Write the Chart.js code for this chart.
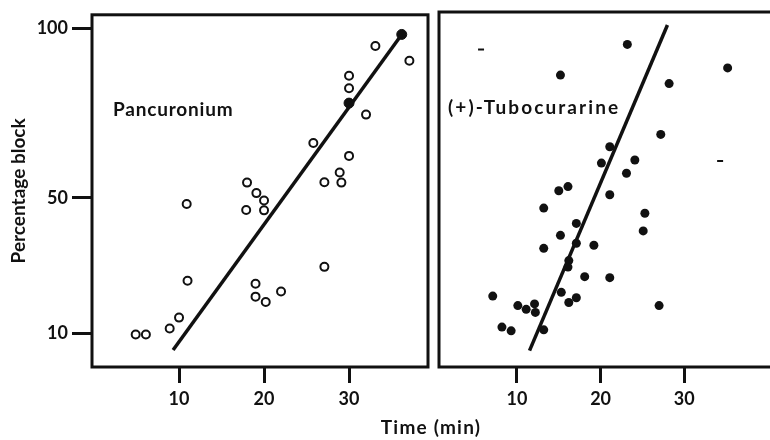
<!DOCTYPE html>
<html>
<head>
<meta charset="utf-8">
<script src="https://cdn.jsdelivr.net/npm/chart.js@4.4.1/dist/chart.umd.min.js"></script>
<style>
html, body { margin: 0; padding: 0; background: #fff; }
#wrap { position: relative; width: 770px; height: 440px; overflow: hidden; background: #fff; }
#wrap canvas { position: absolute; left: 0; top: 0; }
</style>
</head>
<body>
<div id="wrap">
  <canvas id="pan" width="800" height="440"></canvas>
  <canvas id="tub" width="800" height="440"></canvas>
</div>
<script>
// tick labels
const xTicks = [10, 20, 30];
const yTicks = [10, 50, 100];

// Pancuronium (open circles), time in min, % block
const panTime  = [4.9, 6.1, 8.9, 10.0, 11.0, 10.9, 18.0, 19.1, 20.0, 17.9, 20.0, 19.0, 19.0, 20.2, 22.0, 27.1, 25.8, 27.1, 28.9, 29.1, 30.0, 30.0, 30.0, 32.0, 33.1, 37.1];
const panBlock = [9.6, 9.6, 11.4, 14.6, 25.5, 48.2, 54.5, 51.4, 49.2, 46.4, 46.3, 24.6, 20.8, 19.2, 22.3, 29.6, 66.2, 54.6, 57.5, 54.5, 62.4, 82.4, 86.1, 74.6, 94.9, 90.5];
// the two solid points on the pancuronium line
const panSolidTime  = [30.0, 36.2];
const panSolidBlock = [78.0, 98.3];
// fitted line ends
const panFitTime  = [9.3, 36.2];
const panFitBlock = [5.0, 98.3];

// (+)-Tubocurarine (filled circles)
const tubTime  = [7.1, 8.2, 9.3, 10.1, 11.1, 12.1, 12.2, 13.2, 13.2, 13.2, 15.0, 16.1, 15.2, 15.2, 15.3, 16.2, 17.1, 17.1, 17.1, 16.2, 16.1, 18.1, 19.2, 20.1, 21.1, 21.1, 21.1, 23.2, 23.1, 24.1, 25.3, 25.1, 27.2, 27.0, 28.2, 35.2];
const tubBlock = [20.8, 11.7, 10.6, 18.0, 16.9, 18.5, 16.0, 10.9, 34.8, 46.6, 51.7, 52.9, 85.6, 38.6, 21.9, 18.9, 20.3, 42.1, 36.3, 31.2, 29.3, 26.5, 35.7, 59.8, 64.6, 50.5, 26.2, 94.6, 56.8, 60.7, 45.1, 39.9, 68.2, 18.0, 83.1, 87.7];
const tubFitTime  = [11.5, 28.0];
const tubFitBlock = [4.8, 100.3];
// stray specks in the scan
const speckTime  = [5.7, 34.3];
const speckBlock = [93.1, 60.4];

const ink = '#111';
const FONT = 'Lato, "Open Sans", sans-serif';
const pts = (xs, ys) => xs.map((x, i) => ({ x: x, y: ys[i] }));

const frame = {
  id: 'frame',
  afterDatasetsDraw(chart) {
    const a = chart.chartArea, ctx = chart.ctx;
    ctx.save();
    ctx.strokeStyle = ink;
    ctx.lineWidth = 3;
    ctx.strokeRect(a.left, a.top, a.right - a.left, a.bottom - a.top);
    ctx.restore();
  }
};

function textPlugin(items) {
  return {
    id: 'texts',
    afterDraw(chart) {
      const ctx = chart.ctx;
      ctx.save();
      ctx.fillStyle = ink;
      items.forEach(t => {
        ctx.font = t.font;
        ctx.letterSpacing = t.spacing + 'px';
        ctx.textAlign = t.align;
        ctx.textBaseline = 'middle';
        ctx.fillText(t.text, t.x, t.y);
      });
      ctx.restore();
    }
  };
}

const tickFont = { family: FONT, size: 18, weight: 'bold' };

function xScale(min, max) {
  return {
    type: 'linear', min: min, max: max,
    afterBuildTicks: s => { s.ticks = xTicks.map(v => ({ value: v })); },
    afterFit: s => { s.height = 73; },
    grid: { drawOnChartArea: false, drawTicks: true, tickLength: 16, tickWidth: 3, tickColor: ink },
    border: { display: false },
    ticks: { color: ink, font: tickFont, padding: 5 }
  };
}

const common = {
  responsive: false,
  animation: false,
  events: [],
  plugins: { legend: { display: false }, tooltip: { enabled: false } }
};

new Chart(document.getElementById('pan'), {
  type: 'scatter',
  data: {
    datasets: [
      { data: pts(panFitTime, panFitBlock), showLine: true, borderColor: ink, borderWidth: 3.5, pointRadius: 0 },
      { data: pts(panTime, panBlock), pointRadius: 4, pointBorderWidth: 2, pointBorderColor: ink, pointBackgroundColor: '#fff' },
      { data: pts(panSolidTime, panSolidBlock), pointRadius: 5, pointBorderWidth: 1, pointBorderColor: ink, pointBackgroundColor: ink }
    ]
  },
  options: Object.assign({}, common, {
    layout: { padding: { left: 0, top: 12, right: 372, bottom: 0 } },
    scales: {
      x: xScale(-0.24, 39.29),
      y: {
        type: 'linear', min: 0, max: 104.1,
        afterBuildTicks: s => { s.ticks = yTicks.map(v => ({ value: v })); },
        afterFit: s => { s.width = 92; },
        grid: { drawOnChartArea: false, drawTicks: true, tickLength: 20, tickWidth: 3, tickColor: ink },
        border: { display: false },
        ticks: { color: ink, font: tickFont, padding: 4 },
        title: { display: true, text: 'Percentage block', color: ink, font: { family: FONT, size: 19, weight: 'bold' }, padding: { top: 7, bottom: 0 } }
      }
    }
  }),
  plugins: [frame, textPlugin([
    { text: 'Pancuronium', x: 113, y: 110, align: 'left', font: 'bold 19px ' + FONT, spacing: 0.8 }
  ])]
});

new Chart(document.getElementById('tub'), {
  type: 'scatter',
  data: {
    datasets: [
      { data: pts(tubFitTime, tubFitBlock), showLine: true, borderColor: ink, borderWidth: 3.5, pointRadius: 0 },
      { data: pts(tubTime, tubBlock), pointRadius: 4.5, pointBorderWidth: 0, pointBackgroundColor: ink },
      { data: pts(speckTime, speckBlock), pointStyle: 'line', pointRadius: 3, pointBorderWidth: 2, pointBorderColor: ink }
    ]
  },
  options: Object.assign({}, common, {
    layout: { padding: { left: 439, top: 12, right: 0, bottom: 0 } },
    scales: {
      x: xScale(0.67, 43.14),
      y: { type: 'linear', min: 0, max: 104.1, display: false }
    }
  }),
  plugins: [frame, textPlugin([
    { text: '(+)-Tubocurarine', x: 448, y: 108, align: 'left', font: 'bold 19px ' + FONT, spacing: 2.1 },
    { text: 'Time (min)', x: 431, y: 428, align: 'center', font: 'bold 19px ' + FONT, spacing: 1.2 }
  ])]
});
</script>
</body>
</html>
